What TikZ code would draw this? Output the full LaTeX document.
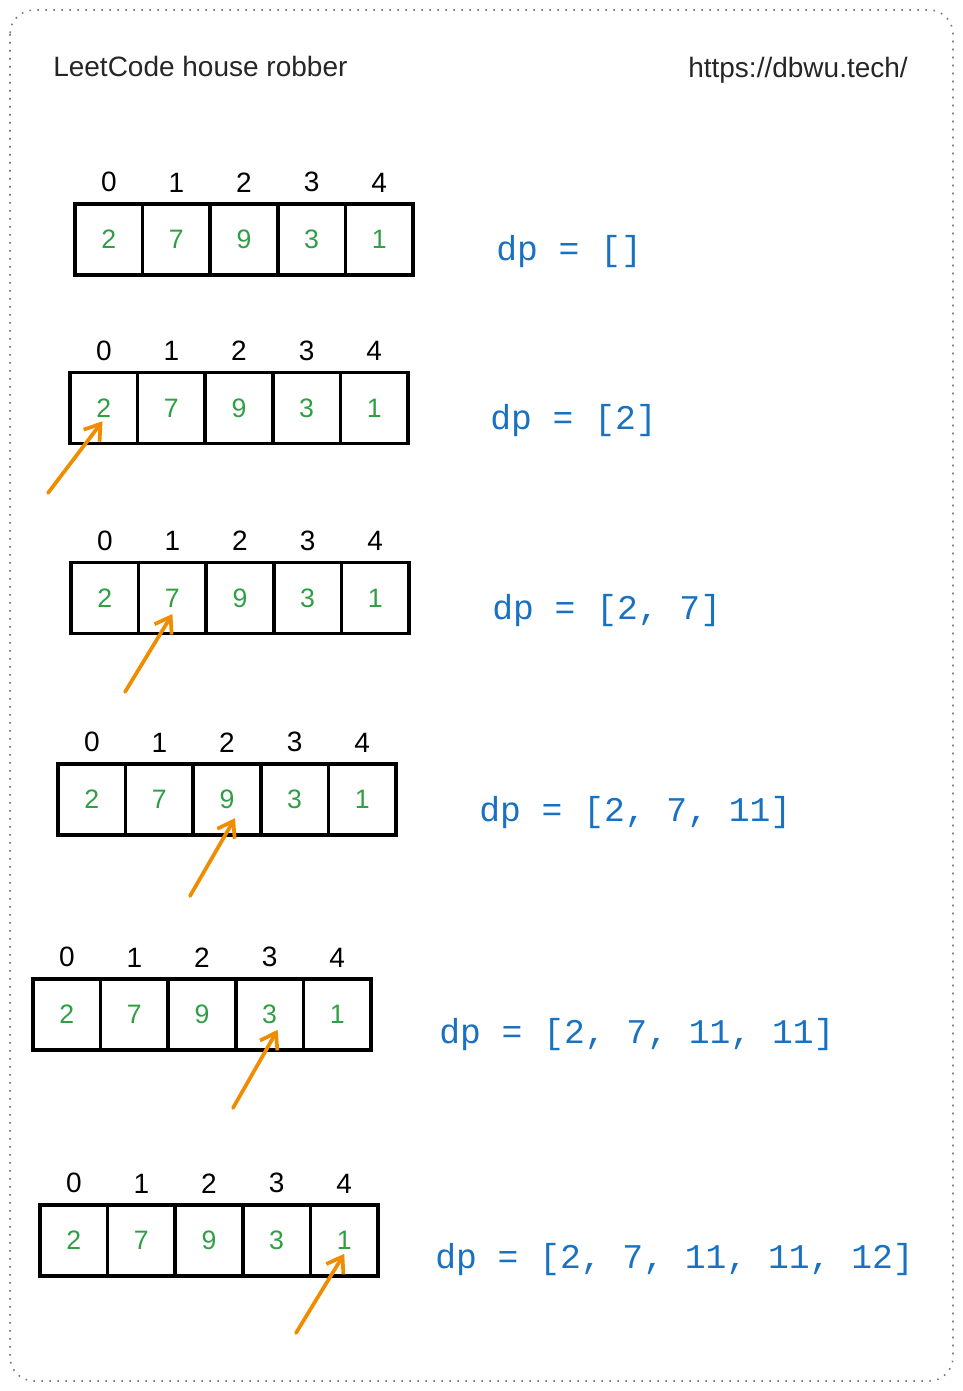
\documentclass[tikz,border=0pt]{standalone}
\usepackage{fontspec}
\setmainfont{Liberation Sans}
\newfontfamily\codefont{Liberation Mono}
\usetikzlibrary{positioning,arrows.meta}

\definecolor{inkgreen}{HTML}{2F9E44}
\definecolor{inkblue}{HTML}{1971C2}
\definecolor{inkorange}{HTML}{F08C00}
\definecolor{framegray}{HTML}{7A7A7A}

\tikzset{
  cell/.style={draw, line width=2.6pt, minimum width=50.7pt, minimum height=53.25pt,
    inner sep=0pt, outer sep=0pt, text=inkgreen, font=\fontsize{20}{24}\selectfont},
  idx/.style={inner sep=0.75pt, font=\fontsize{21}{25}\selectfont},
  dplabel/.style={anchor=base west, inner sep=0pt, text=inkblue, font=\codefont\fontsize{26}{30}\selectfont},
  pointer/.style={draw=inkorange, line width=2.8pt, line cap=round, line join=round,
    -{Straight Barb[length=11pt,width=15pt]}},
}

\begin{document}
\begin{tikzpicture}[x=0.75pt,y=0.75pt,yscale=-1,xscale=1]
  \useasboundingbox (0,0) rectangle (963,1391);

  %Rounded Rect [frame]
  \draw [framegray, line width=1.2pt, dash pattern=on 1.2pt off 4.8pt, rounded corners=18pt] (10,10) rectangle (953,1381);

  % Text Node
  \node [anchor=base west, inner sep=0pt, font=\fontsize{21}{25}\selectfont, text=black!85] (title) at (53,77) {LeetCode house robber};
  % Text Node
  \node [anchor=base east, inner sep=0pt, font=\fontsize{21}{25}\selectfont, text=black!85] (site) at (908,78) {https://dbwu.tech/};

  %Array row 1
  \node [cell] (r1c0) at (108.8,239.5) {2};
  \node [cell, right=0pt of r1c0] (r1c1) {7};
  \node [cell, right=0pt of r1c1] (r1c2) {9};
  \node [cell, right=0pt of r1c2] (r1c3) {3};
  \node [cell, right=0pt of r1c3] (r1c4) {1};
  \node [idx, above=8pt of r1c0] (r1i0) {0};
  \node [idx, above=8pt of r1c1] (r1i1) {1};
  \node [idx, above=8pt of r1c2] (r1i2) {2};
  \node [idx, above=8pt of r1c3] (r1i3) {3};
  \node [idx, above=8pt of r1c4] (r1i4) {4};
  % Text Node
  \node [dplabel] (dp1) at (496,260) {dp = []};

  %Array row 2
  \node [cell] (r2c0) at (103.8,408) {2};
  \node [cell, right=0pt of r2c0] (r2c1) {7};
  \node [cell, right=0pt of r2c1] (r2c2) {9};
  \node [cell, right=0pt of r2c2] (r2c3) {3};
  \node [cell, right=0pt of r2c3] (r2c4) {1};
  \node [idx, above=8pt of r2c0] (r2i0) {0};
  \node [idx, above=8pt of r2c1] (r2i1) {1};
  \node [idx, above=8pt of r2c2] (r2i2) {2};
  \node [idx, above=8pt of r2c3] (r2i3) {3};
  \node [idx, above=8pt of r2c4] (r2i4) {4};
  % Text Node
  \node [dplabel] (dp2) at (490,429) {dp = [2]};
  %Straight Lines [pointer 2]
  \coordinate (s2) at (48,493);
  \draw [pointer] (s2) -- ([xshift=-1pt,yshift=10pt]r2c0.center);

  %Array row 3
  \node [cell] (r3c0) at (104.8,598) {2};
  \node [cell, right=0pt of r3c0] (r3c1) {7};
  \node [cell, right=0pt of r3c1] (r3c2) {9};
  \node [cell, right=0pt of r3c2] (r3c3) {3};
  \node [cell, right=0pt of r3c3] (r3c4) {1};
  \node [idx, above=8pt of r3c0] (r3i0) {0};
  \node [idx, above=8pt of r3c1] (r3i1) {1};
  \node [idx, above=8pt of r3c2] (r3i2) {2};
  \node [idx, above=8pt of r3c3] (r3i3) {3};
  \node [idx, above=8pt of r3c4] (r3i4) {4};
  % Text Node
  \node [dplabel] (dp3) at (492,619) {dp = [2, 7]};
  %Straight Lines [pointer 3]
  \coordinate (s3) at (125,692);
  \draw [pointer] (s3) -- ([yshift=12pt]r3c1.center);

  %Array row 4
  \node [cell] (r4c0) at (91.8,799.5) {2};
  \node [cell, right=0pt of r4c0] (r4c1) {7};
  \node [cell, right=0pt of r4c1] (r4c2) {9};
  \node [cell, right=0pt of r4c2] (r4c3) {3};
  \node [cell, right=0pt of r4c3] (r4c4) {1};
  \node [idx, above=8pt of r4c0] (r4i0) {0};
  \node [idx, above=8pt of r4c1] (r4i1) {1};
  \node [idx, above=8pt of r4c2] (r4i2) {2};
  \node [idx, above=8pt of r4c3] (r4i3) {3};
  \node [idx, above=8pt of r4c4] (r4i4) {4};
  % Text Node
  \node [dplabel] (dp4) at (479,821) {dp = [2, 7, 11]};
  %Straight Lines [pointer 4]
  \coordinate (s4) at (190,896);
  \draw [pointer] (s4) -- ([xshift=6pt,yshift=14pt]r4c2.center);

  %Array row 5
  \node [cell] (r5c0) at (66.8,1014.5) {2};
  \node [cell, right=0pt of r5c0] (r5c1) {7};
  \node [cell, right=0pt of r5c1] (r5c2) {9};
  \node [cell, right=0pt of r5c2] (r5c3) {3};
  \node [cell, right=0pt of r5c3] (r5c4) {1};
  \node [idx, above=8pt of r5c0] (r5i0) {0};
  \node [idx, above=8pt of r5c1] (r5i1) {1};
  \node [idx, above=8pt of r5c2] (r5i2) {2};
  \node [idx, above=8pt of r5c3] (r5i3) {3};
  \node [idx, above=8pt of r5c4] (r5i4) {4};
  % Text Node
  \node [dplabel] (dp5) at (439,1043) {dp = [2, 7, 11, 11]};
  %Straight Lines [pointer 5]
  \coordinate (s5) at (233,1108);
  \draw [pointer] (s5) -- ([xshift=6pt,yshift=11.5pt]r5c3.center);

  %Array row 6
  \node [cell] (r6c0) at (73.8,1240.5) {2};
  \node [cell, right=0pt of r6c0] (r6c1) {7};
  \node [cell, right=0pt of r6c1] (r6c2) {9};
  \node [cell, right=0pt of r6c2] (r6c3) {3};
  \node [cell, right=0pt of r6c3] (r6c4) {1};
  \node [idx, above=8pt of r6c0] (r6i0) {0};
  \node [idx, above=8pt of r6c1] (r6i1) {1};
  \node [idx, above=8pt of r6c2] (r6i2) {2};
  \node [idx, above=8pt of r6c3] (r6i3) {3};
  \node [idx, above=8pt of r6c4] (r6i4) {4};
  % Text Node
  \node [dplabel] (dp6) at (435,1268) {dp = [2, 7, 11, 11, 12]};
  %Straight Lines [pointer 6]
  \coordinate (s6) at (296,1333);
  \draw [pointer] (s6) -- ([yshift=10pt]r6c4.center);

\end{tikzpicture}
\end{document}
